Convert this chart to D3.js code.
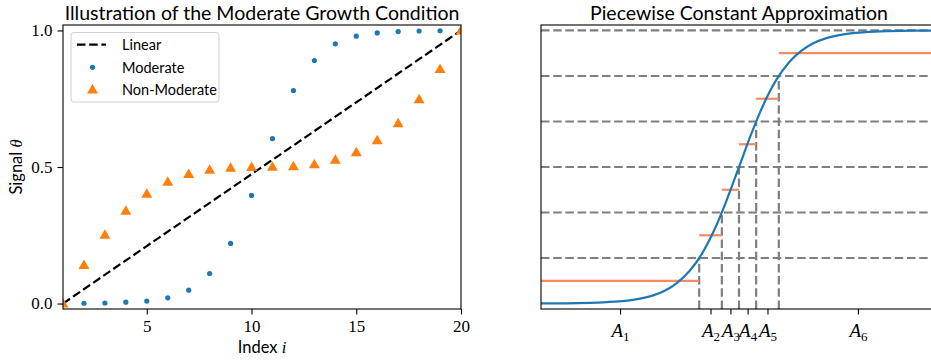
<!DOCTYPE html>
<html><head><meta charset="utf-8">
<script src="https://cdn.jsdelivr.net/npm/d3@7"></script>
<style>
body{margin:0;background:#fff}
svg{display:block}
.sans{font-family:"Lato","Noto Sans",sans-serif}
.serif{font-family:"Liberation Serif","DejaVu Serif",serif}
</style>
</head><body>
<svg id="c" width="931" height="361"></svg>
<script>
// ---------- Left panel data ----------
const indices = [1,2,3,4,5,6,7,8,9,10,11,12,13,14,15,16,17,18,19,20];
const moderate = [0.000,0.001,0.002,0.005,0.009,0.021,0.049,0.110,0.220,0.396,0.604,0.780,0.890,0.951,0.979,0.991,0.996,0.998,0.999,1.000];
const nonModerate = [0.000,0.141,0.252,0.340,0.402,0.446,0.474,0.490,0.497,0.4995,0.5005,0.503,0.510,0.526,0.554,0.598,0.660,0.748,0.859,1.000];
const linearLine = [[1,0],[20,1]];
const leftXTicks = [5,10,15,20];
const leftYTicks = [0.0,0.5,1.0];
const leftYTickLabels = ["0.0","0.5","1.0"];
const legendLabels = ["Linear","Moderate","Non-Moderate"];

// ---------- Right panel data ----------
const curveX = [-8,-7.5,-7,-6.5,-6,-5.5,-5,-4.5,-4,-3.5,-3,-2.5,-2,-1.5,-1,-0.5,0,0.5,1,1.5,2,2.5,3,3.5,4,4.5,5,5.5,6,6.5,7,7.5,8];
const curveY = [0.0003,0.0006,0.0009,0.0015,0.0025,0.0041,0.0067,0.011,0.018,0.029,0.047,0.076,0.119,0.182,0.269,0.378,0.500,0.622,0.731,0.818,0.881,0.924,0.953,0.971,0.982,0.989,0.9933,0.9959,0.9975,0.9985,0.9991,0.9994,0.9997];
const levels = [0.1667,0.3333,0.5,0.6667,0.8333,1.0];
const crossX = [-1.609,-0.693,0,0.693,1.609];
const pieceEdges = [-8,-1.609,-0.693,0,0.693,1.609,8];
const pieceValues = [0.0833,0.25,0.4167,0.5833,0.75,0.9167];
const rightTickPos = [-4.805,-1.151,-0.347,0.347,1.151,4.805];
const rightTickSubs = ["1","2","3","4","5","6"];

const svg = d3.select("#c");
const blue = "#1f77b4", orange = "#ff7f0e", salmon = "#f88a62", gray = "#7f7f7f";

// ================= LEFT =================
const L = {x0:63, x1:461, y0:25, y1:309};
const xL = d3.scaleLinear().domain([1,20]).range([L.x0,L.x1]);
const yL = d3.scaleLinear().domain([-0.02,1.02]).range([L.y1,L.y0]);
const defs = svg.append("defs");
defs.append("clipPath").attr("id","clipL").append("rect")
  .attr("x",L.x0).attr("y",L.y0).attr("width",L.x1-L.x0).attr("height",L.y1-L.y0);

const gL = svg.append("g").attr("clip-path","url(#clipL)");
gL.append("path").datum(linearLine)
  .attr("d", d3.line().x(d=>xL(d[0])).y(d=>yL(d[1])))
  .attr("fill","none").attr("stroke","#000").attr("stroke-width",2.2).attr("stroke-dasharray","8.5,3.7");
gL.selectAll("circle.m").data(indices).join("circle")
  .attr("cx",(d,i)=>xL(d)).attr("cy",(d,i)=>yL(moderate[i])).attr("r",2.6).attr("fill",blue);
const tri = d3.symbol().type(d3.symbolTriangle).size(52);
gL.selectAll("path.t").data(indices).join("path")
  .attr("d",tri).attr("transform",(d,i)=>`translate(${xL(d)},${yL(nonModerate[i])+0.8})`).attr("fill",orange);

// axes
const axXL = d3.axisBottom(xL).tickValues(leftXTicks).tickFormat(d3.format("d")).tickSize(5.5).tickPadding(5).tickSizeOuter(0);
const gxL = svg.append("g").attr("transform",`translate(0,${L.y1})`).call(axXL);
const axYL = d3.axisLeft(yL).tickValues(leftYTicks).tickFormat((d,i)=>leftYTickLabels[i]).tickSize(5.5).tickPadding(5).tickSizeOuter(0);
const gyL = svg.append("g").attr("transform",`translate(${L.x0},0)`).call(axYL);
[gxL,gyL].forEach(g=>{
  g.select(".domain").remove();
  g.selectAll("line").attr("stroke","#000").attr("stroke-width",1.1);
  g.selectAll("text").attr("class","serif").attr("font-size",17).attr("fill","#000").style("font-family",null);
  g.attr("font-family",null).attr("font-size",null);
});
svg.append("rect").attr("x",L.x0).attr("y",L.y0).attr("width",L.x1-L.x0).attr("height",L.y1-L.y0)
  .attr("fill","none").attr("stroke","#000").attr("stroke-width",1.1);

// titles / labels
svg.append("text").attr("class","sans").attr("x",(L.x0+L.x1)/2).attr("y",19.5)
  .attr("text-anchor","middle").attr("font-size",19.5).text("Illustration of the Moderate Growth Condition");
const xlab = svg.append("text").attr("class","sans").attr("x",(L.x0+L.x1)/2).attr("y",353)
  .attr("text-anchor","middle").attr("font-size",16.5);
xlab.append("tspan").text("Index ");
xlab.append("tspan").attr("class","serif").attr("font-style","italic").text("i");
const ylab = svg.append("text").attr("class","sans")
  .attr("transform",`translate(22,${(L.y0+L.y1)/2}) rotate(-90)`)
  .attr("text-anchor","middle").attr("font-size",16.5);
ylab.append("tspan").text("Signal ");
ylab.append("tspan").attr("class","serif").attr("font-style","italic").text("θ");

// legend
const lg = svg.append("g");
lg.append("rect").attr("x",71).attr("y",32.5).attr("width",148).attr("height",69.5).attr("rx",3)
  .attr("fill","#fff").attr("fill-opacity",0.85).attr("stroke","#d0d0d0").attr("stroke-width",1);
const rowsY = [44.7,67.3,89.5];
lg.append("line").attr("x1",77).attr("x2",106).attr("y1",rowsY[0]).attr("y2",rowsY[0])
  .attr("stroke","#000").attr("stroke-width",2.2).attr("stroke-dasharray","8.5,3.7");
lg.append("circle").attr("cx",92.5).attr("cy",rowsY[1]).attr("r",2.6).attr("fill",blue);
lg.append("path").attr("d",tri).attr("transform",`translate(92.5,${rowsY[2]+0.8})`).attr("fill",orange);
lg.selectAll("text").data(legendLabels).join("text").attr("class","sans")
  .attr("x",122).attr("y",(d,i)=>rowsY[i]).attr("dy","0.36em").attr("font-size",14.5).text(d=>d);

// ================= RIGHT =================
const R = {x0:541, x1:937, y0:25, y1:309};
const xR = d3.scaleLinear().domain([-8,8]).range([R.x0,R.x1]);
const yR = d3.scaleLinear().domain([-0.02,1.02]).range([R.y1,R.y0]);
defs.append("clipPath").attr("id","clipR").append("rect")
  .attr("x",R.x0).attr("y",R.y0).attr("width",R.x1-R.x0).attr("height",R.y1-R.y0);
const gR = svg.append("g").attr("clip-path","url(#clipR)");
gR.selectAll("line.h").data(levels).join("line")
  .attr("x1",xR(-8)).attr("x2",xR(8)).attr("y1",d=>yR(d)).attr("y2",d=>yR(d))
  .attr("stroke",gray).attr("stroke-width",2.2).attr("stroke-dasharray","8.5,3.7");
gR.selectAll("line.v").data(crossX).join("line")
  .attr("x1",d=>xR(d)).attr("x2",d=>xR(d)).attr("y1",yR(-0.02)).attr("y2",(d,i)=>yR(levels[i]))
  .attr("stroke",gray).attr("stroke-width",2.2).attr("stroke-dasharray","8.5,3.7");
gR.selectAll("line.p").data(pieceValues).join("line")
  .attr("x1",(d,i)=>xR(pieceEdges[i])).attr("x2",(d,i)=>xR(pieceEdges[i+1]))
  .attr("y1",d=>yR(d)).attr("y2",d=>yR(d))
  .attr("stroke",salmon).attr("stroke-width",2.2);
gR.append("path").datum(curveX.map((x,i)=>[x,curveY[i]]))
  .attr("d",d3.line().x(d=>xR(d[0])).y(d=>yR(d[1])).curve(d3.curveMonotoneX))
  .attr("fill","none").attr("stroke",blue).attr("stroke-width",2.2);

const axXR = d3.axisBottom(xR).tickValues(rightTickPos).tickFormat("").tickSize(5.5).tickSizeOuter(0);
const gxR = svg.append("g").attr("transform",`translate(0,${R.y1})`).call(axXR);
gxR.select(".domain").remove();
gxR.selectAll("line").attr("stroke","#000").attr("stroke-width",1.1);
gxR.selectAll(".tick").each(function(d,i){
  const t = d3.select(this).append("text").attr("class","serif").attr("y",28)
    .attr("text-anchor","middle").attr("font-size",19).attr("fill","#000");
  t.append("tspan").attr("font-style","italic").text("A");
  t.append("tspan").attr("font-size",13).attr("dy",3.5).text(rightTickSubs[i]);
});
gxR.attr("font-family",null).attr("font-size",null);
svg.append("rect").attr("x",R.x0).attr("y",R.y0).attr("width",R.x1-R.x0).attr("height",R.y1-R.y0)
  .attr("fill","none").attr("stroke","#000").attr("stroke-width",1.1);
svg.append("text").attr("class","sans").attr("x",(R.x0+R.x1)/2).attr("y",19.5)
  .attr("text-anchor","middle").attr("font-size",19.5).text("Piecewise Constant Approximation");
</script>
</body></html>
